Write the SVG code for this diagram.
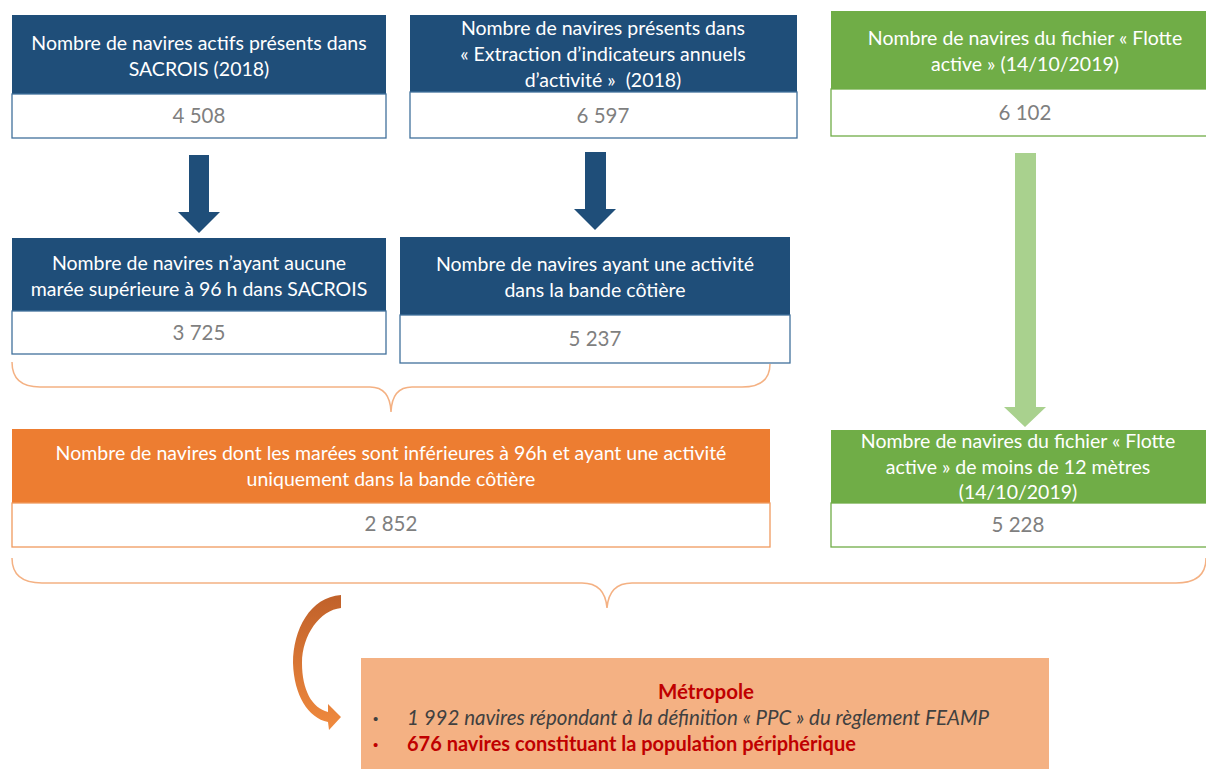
<svg xmlns="http://www.w3.org/2000/svg" width="1206" height="769" viewBox="0 0 1206 769">
<defs>
<style>
.hd{font-family:Lato,"Liberation Sans",sans-serif;font-size:19.5px;fill:#ffffff;text-anchor:middle}
.val{font-family:Lato,"Liberation Sans",sans-serif;font-size:20.5px;fill:#7f7f7f;text-anchor:middle}
.wb{fill:#ffffff;stroke:#41719c;stroke-width:1.3}
.wg{fill:#ffffff;stroke:#70ad47;stroke-width:1.3}
.wo{fill:#ffffff;stroke:#f09a5e;stroke-width:1.3}
.brace{fill:none;stroke:#f4b183;stroke-width:1.5}
.mt{font-family:Lato,"Liberation Sans",sans-serif;font-size:20.5px}
.bl{font-family:"Liberation Sans",sans-serif;font-size:15px}
</style>
<linearGradient id="cg" x1="0" y1="0" x2="0" y2="1">
<stop offset="0" stop-color="#c0612a"/>
<stop offset="1" stop-color="#f08a3e"/>
</linearGradient>
</defs>
<rect width="1206" height="769" fill="#ffffff"/>

<g id="n1">
<rect x="12" y="15" width="374" height="79" fill="#1f4e79"/>
<rect class="wb" x="12" y="94" width="374" height="44"/>
<text class="hd" x="199" y="50">Nombre de navires actifs présents dans</text>
<text class="hd" x="199" y="76">SACROIS (2018)</text>
<text class="val" x="199" y="123">4 508</text>
</g>

<g id="n2">
<rect x="410" y="15" width="387" height="77" fill="#1f4e79"/>
<rect class="wb" x="410" y="92" width="387" height="46"/>
<text class="hd" x="603" y="35">Nombre de navires présents dans</text>
<text class="hd" x="603" y="61">« Extraction d’indicateurs annuels</text>
<text class="hd" x="603" y="87" xml:space="preserve">d’activité »  (2018)</text>
<text class="val" x="603" y="123">6 597</text>
</g>

<g id="n3">
<rect x="831" y="11" width="375" height="78" fill="#70ad47"/>
<rect class="wg" x="831" y="89" width="376" height="47"/>
<text class="hd" x="1025" y="45">Nombre de navires du fichier « Flotte</text>
<text class="hd" x="1025" y="71">active » (14/10/2019)</text>
<text class="val" x="1025" y="120">6 102</text>
</g>

<g id="n4">
<rect x="12" y="238" width="374" height="73" fill="#1f4e79"/>
<rect class="wb" x="12" y="311" width="374" height="43"/>
<text class="hd" x="199" y="270">Nombre de navires n’ayant aucune</text>
<text class="hd" x="199" y="296">marée supérieure à 96 h dans SACROIS</text>
<text class="val" x="199" y="340">3 725</text>
</g>

<g id="n5">
<rect x="400" y="237" width="390" height="78" fill="#1f4e79"/>
<rect class="wb" x="400" y="315" width="390" height="48"/>
<text class="hd" x="595" y="271">Nombre de navires ayant une activité</text>
<text class="hd" x="595" y="297">dans la bande côtière</text>
<text class="val" x="595" y="346">5 237</text>
</g>

<g id="n6">
<rect x="831" y="430" width="375" height="73" fill="#70ad47"/>
<rect class="wg" x="831" y="503" width="376" height="44"/>
<text class="hd" x="1018" y="448">Nombre de navires du fichier « Flotte</text>
<text class="hd" x="1018" y="474">active » de moins de 12 mètres</text>
<text class="hd" x="1018" y="499">(14/10/2019)</text>
<text class="val" x="1018" y="532">5 228</text>
</g>

<g id="n7">
<rect x="12" y="429" width="758" height="74" fill="#ed7d31"/>
<rect class="wo" x="12" y="503" width="758" height="44"/>
<text class="hd" x="391" y="460">Nombre de navires dont les marées sont inférieures à 96h et ayant une activité</text>
<text class="hd" x="391" y="486">uniquement dans la bande côtière</text>
<text class="val" x="391" y="531">2 852</text>
</g>

<g id="n8">
<rect x="361" y="658" width="688" height="111" fill="#f4b183"/>
<text class="mt" x="706" y="699" text-anchor="middle" font-weight="bold" fill="#c00000">Métropole</text>
<text class="bl" x="373" y="724" fill="#404040">•</text>
<text class="mt" x="407" y="725" font-style="italic" fill="#404040">1 992 navires répondant à la définition « PPC » du règlement FEAMP</text>
<text class="bl" x="373" y="750" fill="#c00000">•</text>
<text class="mt" x="407" y="751" font-size="20" font-weight="bold" fill="#c00000" style="font-size:20px">676 navires constituant la population périphérique</text>
</g>

<g id="connectors">
<polygon points="189,155 209,155 209,212 220,212 199,233 178,212 189,212" fill="#1f4e79"/>
<polygon points="585,152 606,152 606,209 616,209 595,230 574,209 585,209" fill="#1f4e79"/>
<polygon points="1015,153 1036,153 1036,407 1046,407 1025,427 1004,407 1015,407" fill="#a9d18e"/>
<path class="brace" d="M12,362 Q12,387 40,387 L370,387 Q390,387 391,412 Q392,387 412,387 L742,387 Q770,387 770,364"/>
<path class="brace" d="M12,558 Q12,583 42,583 L582,583 Q605,583 607,608 Q609,583 632,583 L1176,583 Q1206,583 1206,558"/>
<path d="M341,595 L341,608 C320,610 302,635 302,663 C302,690 312,708 328,712 L328,704 L341,717 L329,730 L328,722 C308,718 294,695 293,663 C293,630 310,597 341,595 Z" fill="url(#cg)"/>
</g>
</svg>
